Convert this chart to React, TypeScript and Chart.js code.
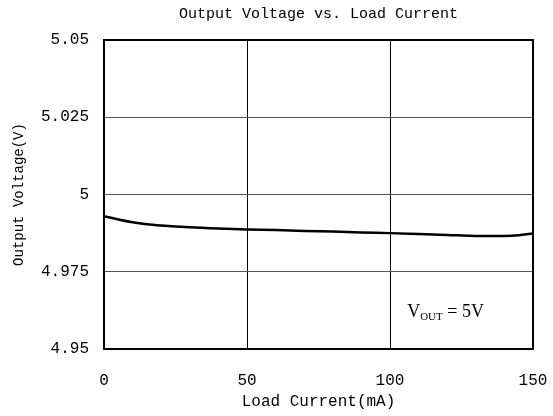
import React, { useEffect, useRef } from "react";
import { Chart, registerables } from "chart.js";

Chart.register(...registerables);

const titleText = "Output Voltage vs. Load Current";
const xTitle = "Load Current(mA)";
const yTitle = "Output Voltage(V)";
const loadCurrent = [0, 5, 10, 15, 20, 30, 40, 50, 60, 70, 80, 90, 100, 110, 120, 130, 140, 145, 150];
const outputVoltage = [4.993, 4.9919, 4.991, 4.9904, 4.99, 4.9894, 4.989, 4.9887, 4.9885, 4.9882, 4.988, 4.9877, 4.9875, 4.9872, 4.9869, 4.9866, 4.9866, 4.9868, 4.9874];
const yTicks = [4.95, 4.975, 5, 5.025, 5.05];
const xTicks = [0, 50, 100, 150];
const yTickLabels = ["4.95", "4.975", "5", "5.025", "5.05"];

const MONO = "'Liberation Mono', monospace";
const SERIF = "'Liberation Serif', serif";

const framePlugin = {
  id: "frame",
  afterDraw(chart: any) {
    const { ctx, chartArea } = chart;
    const { left, right, top, bottom } = chartArea;
    ctx.save();
    ctx.strokeStyle = "#000";
    ctx.lineWidth = 2;
    ctx.strokeRect(left, top, right - left, bottom - top);
    // title
    ctx.fillStyle = "#000";
    ctx.font = `15px ${MONO}`;
    ctx.textAlign = "center";
    ctx.textBaseline = "middle";
    ctx.fillText(titleText, (left + right) / 2, 14);
    // annotation
    const xs = chart.scales.x;
    const ys = chart.scales.y;
    let x = xs.getPixelForValue(106);
    const y = ys.getPixelForValue(4.9604);
    ctx.textAlign = "left";
    ctx.textBaseline = "alphabetic";
    ctx.font = `18px ${SERIF}`;
    ctx.fillText("V", x, y);
    x += ctx.measureText("V").width;
    ctx.font = `11px ${SERIF}`;
    ctx.fillText("OUT", x, y + 3);
    x += ctx.measureText("OUT").width;
    ctx.font = `18px ${SERIF}`;
    ctx.fillText(" = 5V", x, y);
    ctx.restore();
  },
};

export default function App() {
  const ref = useRef<HTMLCanvasElement>(null);
  useEffect(() => {
    if (!ref.current) return;
    const chart = new Chart(ref.current, {
      type: "line",
      data: {
        datasets: [
          {
            data: loadCurrent.map((c, i) => ({ x: c, y: outputVoltage[i] })),
            borderColor: "#000",
            borderWidth: 2.5,
            pointRadius: 0,
            cubicInterpolationMode: "monotone",
            fill: false,
          },
        ],
      },
      options: {
        animation: false,
        responsive: false,
        devicePixelRatio: 1,
        layout: { padding: { top: 40, right: 20, left: 0, bottom: 0 } },
        plugins: { legend: { display: false }, tooltip: { enabled: false }, title: { display: false } },
        scales: {
          x: {
            type: "linear",
            min: 0,
            max: 150,
            afterBuildTicks: (s: any) => {
              s.ticks = xTicks.map((v) => ({ value: v }));
            },
            afterFit: (s: any) => {
              s.height = 67;
              s.paddingLeft = 0;
              s.paddingRight = 0;
            },
            ticks: {
              color: "#000",
              font: { family: MONO, size: 16 },
              padding: 22,
              maxRotation: 0,
            },
            grid: { color: "#000", lineWidth: 1, drawTicks: false },
            border: { display: false },
            title: {
              display: true,
              text: xTitle,
              color: "#000",
              font: { family: MONO, size: 16 },
              padding: { top: 0, bottom: 5 },
            },
          },
          y: {
            type: "linear",
            min: 4.95,
            max: 5.05,
            afterBuildTicks: (s: any) => {
              s.ticks = yTicks.map((v) => ({ value: v }));
            },
            afterFit: (s: any) => {
              s.width = 104;
              s.paddingTop = 0;
              s.paddingBottom = 0;
            },
            ticks: {
              color: "#000",
              font: { family: MONO, size: 16 },
              padding: 15,
              callback: (v: any) => {
                const i = yTicks.findIndex((t) => Math.abs(t - Number(v)) < 1e-9);
                return i >= 0 ? yTickLabels[i] : "";
              },
            },
            grid: { color: "#555", lineWidth: 1, drawTicks: false },
            border: { display: false },
            title: {
              display: true,
              text: yTitle,
              color: "#000",
              font: { family: MONO, size: 14 },
              padding: { top: 11, bottom: 0 },
            },
          },
        },
      },
      plugins: [framePlugin],
    } as any);
    return () => chart.destroy();
  }, []);
  return (
    <div style={{ position: "fixed", left: 0, top: 0, width: 553, height: 416, background: "#fff" }}>
      <canvas ref={ref} width={553} height={416} style={{ width: 553, height: 416 }} />
    </div>
  );
}
